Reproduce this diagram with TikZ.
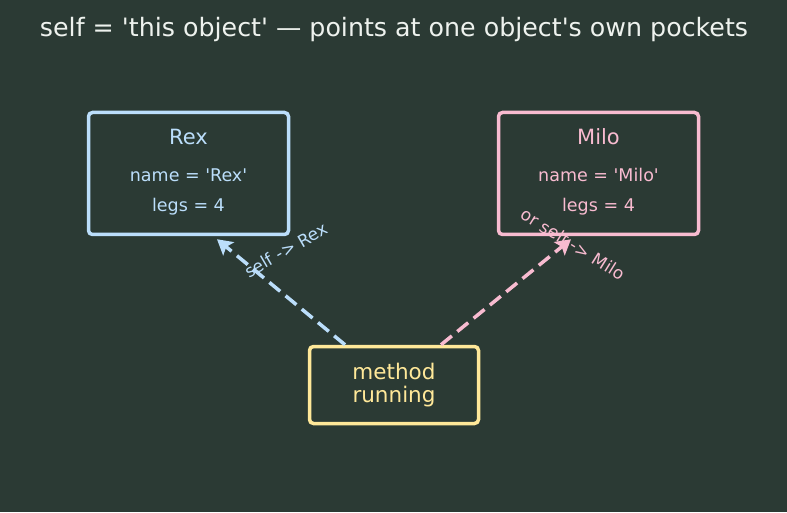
\documentclass[tikz,border=0pt]{standalone}
\usepackage{fontspec}
\setmainfont{DejaVu Sans}[Ligatures=TeXOff]
\usepackage{xcolor}
\usetikzlibrary{positioning, arrows.meta, calc}

\definecolor{bgcol}{HTML}{2B3A34}
\definecolor{rexcol}{HTML}{BBDEFB}
\definecolor{milocol}{HTML}{F8BBD0}
\definecolor{runcol}{HTML}{FFE899}
\definecolor{titlecol}{HTML}{EEF2EE}

\tikzset{
  objbox/.style={draw, line width=3.5pt, rounded corners=4pt, minimum width=200pt, minimum height=122pt, inner sep=0pt},
  selfref/.style={line width=3.5pt, dash pattern=on 14pt off 7pt, -{Stealth[length=15pt, width=17pt, inset=3pt]}},
}

\begin{document}
\begin{tikzpicture}[x=1pt, y=1pt]
  % Background
  \fill[bgcol] (0, 0) rectangle (787, 512);
  \useasboundingbox (0, 0) rectangle (787, 512);
  % Title
  \node[titlecol, font=\fontsize{25.3}{28}\selectfont] (title) at (394, 482) {self = 'this object' — points at one object's own pockets};
  % Objects
  \node[objbox, rexcol] (rex) at (188.5, 338.5) {};
  \node[rexcol, font=\fontsize{21}{24}\selectfont] (rexname) at (188.5, 375) {Rex};
  \node[rexcol, font=\fontsize{17.5}{20}\selectfont] (rexa) at (188.5, 337) {name = 'Rex'};
  \node[rexcol, font=\fontsize{17.5}{20}\selectfont] (rexb) at (188.5, 305) {legs = 4};
  \node[objbox, milocol] (milo) at (598.5, 338.5) {};
  \node[milocol, font=\fontsize{21}{24}\selectfont] (miloname) at (598.5, 375) {Milo};
  \node[milocol, font=\fontsize{17.5}{20}\selectfont] (miloa) at (598.5, 337) {name = 'Milo'};
  \node[milocol, font=\fontsize{17.5}{20}\selectfont] (milob) at (598.5, 305) {legs = 4};
  % Running method
  \node[objbox, runcol, minimum width=169pt, minimum height=77pt, align=center,
    font=\fontsize{21.5}{23}\selectfont] (method) at (394, 127) {method\\running};
  % Self pointers
  \draw[selfref, rexcol] ([xshift=-49pt]method.north) -- ([xshift=28.5pt, yshift=-3pt]rex.south);
  \draw[selfref, milocol] ([xshift=47pt]method.north) -- ([xshift=-27.5pt, yshift=-3pt]milo.south);
  \node[rexcol, rotate=30, font=\fontsize{17}{20}\selectfont] (rexlbl) at (286, 262) {self -> Rex};
  \node[milocol, rotate=-32, font=\fontsize{17}{20}\selectfont] (milolbl) at (573, 268) {or self -> Milo};
\end{tikzpicture}
\end{document}
